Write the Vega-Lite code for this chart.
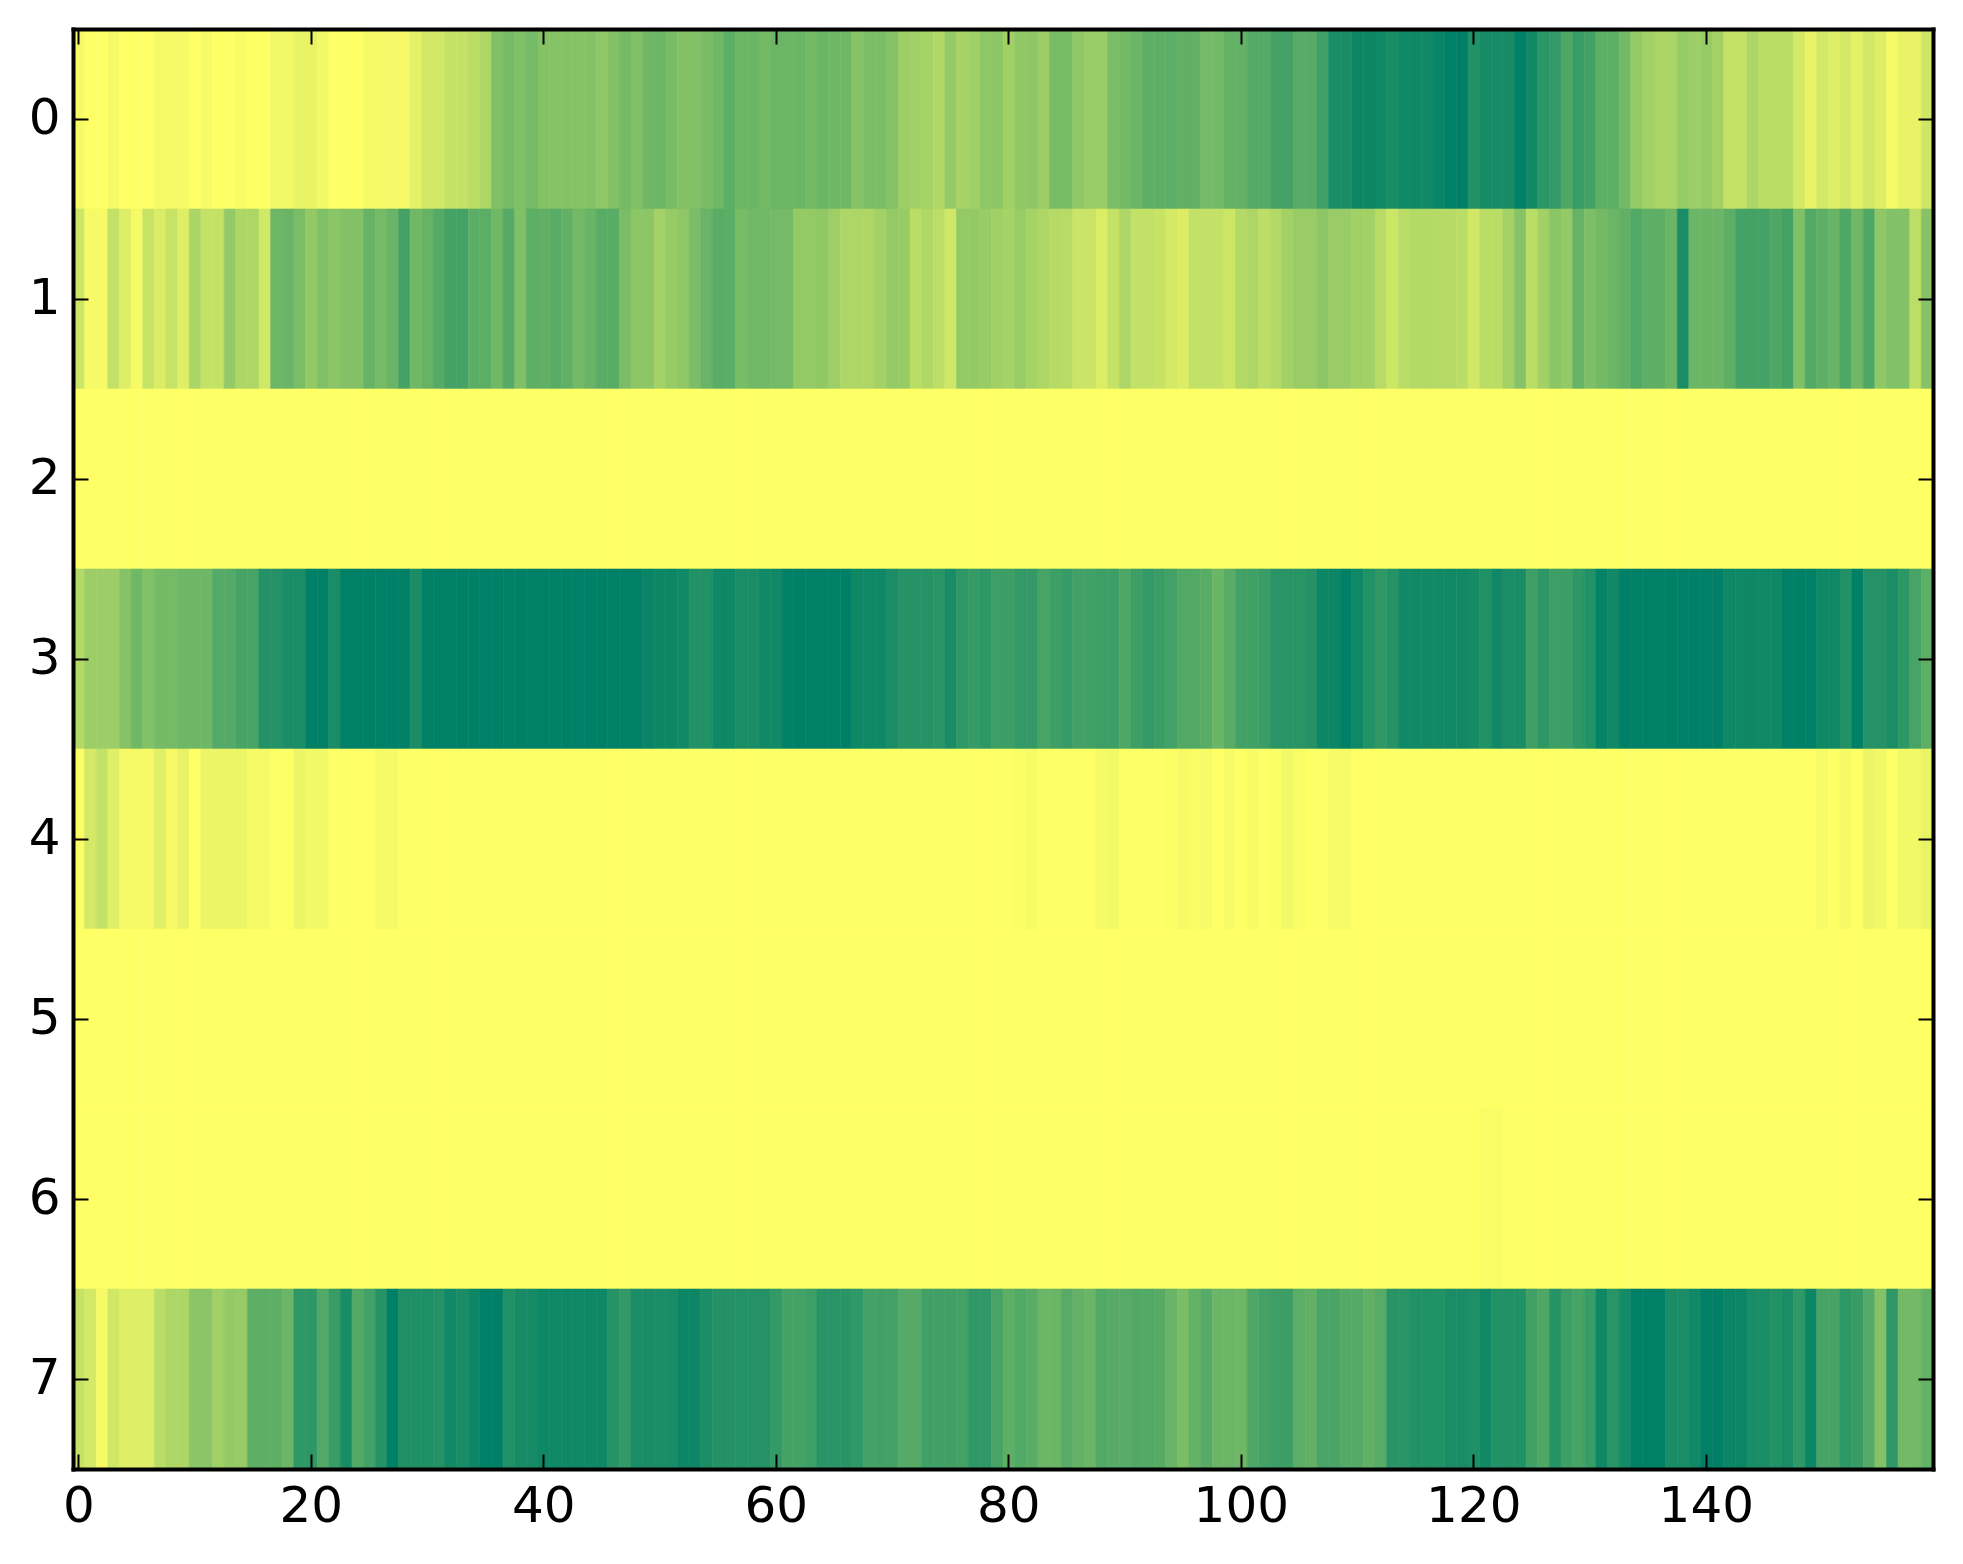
{"$schema":"https://vega.github.io/schema/vega-lite/v6.json","width":1860,"height":1440,"autosize":{"type":"none"},"padding":{"left":73,"top":29,"right":30,"bottom":95},"background":"white","config":{"view":{"stroke":null},"axis":{"title":null,"grid":false,"labelFont":"DejaVu Sans","labelFontSize":50,"labelColor":"black","labelAngle":0,"tickColor":"black","tickWidth":2,"tickSize":-15,"domainColor":"black","domainWidth":4,"domainCap":"square"}},"data":{"values":[
{"c":0,"r":0,"v":4},{"c":1,"r":0,"v":0},{"c":2,"r":0,"v":0},{"c":3,"r":0,"v":4},{"c":4,"r":0,"v":0},{"c":5,"r":0,"v":0},{"c":6,"r":0,"v":0},{"c":7,"r":0,"v":4},{"c":8,"r":0,"v":4},{"c":9,"r":0,"v":4},{"c":10,"r":0,"v":0},{"c":11,"r":0,"v":3},{"c":12,"r":0,"v":0},{"c":13,"r":0,"v":0},{"c":14,"r":0,"v":2},{"c":15,"r":0,"v":0},{"c":16,"r":0,"v":0},{"c":17,"r":0,"v":5},{"c":18,"r":0,"v":5},{"c":19,"r":0,"v":9},{"c":20,"r":0,"v":9},{"c":21,"r":0,"v":5},{"c":22,"r":0,"v":0},{"c":23,"r":0,"v":0},{"c":24,"r":0,"v":0},{"c":25,"r":0,"v":4},{"c":26,"r":0,"v":4},{"c":27,"r":0,"v":4},{"c":28,"r":0,"v":4},{"c":29,"r":0,"v":11},{"c":30,"r":0,"v":18},{"c":31,"r":0,"v":18},{"c":32,"r":0,"v":23},{"c":33,"r":0,"v":23},{"c":34,"r":0,"v":27},{"c":35,"r":0,"v":32},{"c":36,"r":0,"v":50},{"c":37,"r":0,"v":54},{"c":38,"r":0,"v":50},{"c":39,"r":0,"v":54},
{"c":40,"r":0,"v":48},{"c":41,"r":0,"v":48},{"c":42,"r":0,"v":48},{"c":43,"r":0,"v":48},{"c":44,"r":0,"v":48},{"c":45,"r":0,"v":44},{"c":46,"r":0,"v":49},{"c":47,"r":0,"v":54},{"c":48,"r":0,"v":50},{"c":49,"r":0,"v":56},{"c":50,"r":0,"v":58},{"c":51,"r":0,"v":53},{"c":52,"r":0,"v":49},{"c":53,"r":0,"v":49},{"c":54,"r":0,"v":52},{"c":55,"r":0,"v":56},{"c":56,"r":0,"v":63},{"c":57,"r":0,"v":58},{"c":58,"r":0,"v":58},{"c":59,"r":0,"v":55},{"c":60,"r":0,"v":58},{"c":61,"r":0,"v":58},{"c":62,"r":0,"v":58},{"c":63,"r":0,"v":55},{"c":64,"r":0,"v":58},{"c":65,"r":0,"v":56},{"c":66,"r":0,"v":56},{"c":67,"r":0,"v":47},{"c":68,"r":0,"v":52},{"c":69,"r":0,"v":52},{"c":70,"r":0,"v":48},{"c":71,"r":0,"v":38},{"c":72,"r":0,"v":37},{"c":73,"r":0,"v":35},{"c":74,"r":0,"v":31},{"c":75,"r":0,"v":42},{"c":76,"r":0,"v":34},{"c":77,"r":0,"v":37},{"c":78,"r":0,"v":44},{"c":79,"r":0,"v":45},
{"c":80,"r":0,"v":37},{"c":81,"r":0,"v":43},{"c":82,"r":0,"v":44},{"c":83,"r":0,"v":39},{"c":84,"r":0,"v":53},{"c":85,"r":0,"v":53},{"c":86,"r":0,"v":44},{"c":87,"r":0,"v":40},{"c":88,"r":0,"v":40},{"c":89,"r":0,"v":52},{"c":90,"r":0,"v":55},{"c":91,"r":0,"v":58},{"c":92,"r":0,"v":63},{"c":93,"r":0,"v":63},{"c":94,"r":0,"v":64},{"c":95,"r":0,"v":62},{"c":96,"r":0,"v":62},{"c":97,"r":0,"v":54},{"c":98,"r":0,"v":54},{"c":99,"r":0,"v":61},{"c":100,"r":0,"v":61},{"c":101,"r":0,"v":67},{"c":102,"r":0,"v":67},{"c":103,"r":0,"v":73},{"c":104,"r":0,"v":73},{"c":105,"r":0,"v":66},{"c":106,"r":0,"v":66},{"c":107,"r":0,"v":75},{"c":108,"r":0,"v":90},{"c":109,"r":0,"v":90},{"c":110,"r":0,"v":95},{"c":111,"r":0,"v":95},{"c":112,"r":0,"v":94},{"c":113,"r":0,"v":90},{"c":114,"r":0,"v":94},{"c":115,"r":0,"v":94},{"c":116,"r":0,"v":93},{"c":117,"r":0,"v":97},{"c":118,"r":0,"v":100},{"c":119,"r":0,"v":100},
{"c":120,"r":0,"v":87},{"c":121,"r":0,"v":91},{"c":122,"r":0,"v":91},{"c":123,"r":0,"v":91},{"c":124,"r":0,"v":100},{"c":125,"r":0,"v":94},{"c":126,"r":0,"v":83},{"c":127,"r":0,"v":80},{"c":128,"r":0,"v":69},{"c":129,"r":0,"v":78},{"c":130,"r":0,"v":74},{"c":131,"r":0,"v":63},{"c":132,"r":0,"v":63},{"c":133,"r":0,"v":55},{"c":134,"r":0,"v":42},{"c":135,"r":0,"v":36},{"c":136,"r":0,"v":33},{"c":137,"r":0,"v":33},{"c":138,"r":0,"v":41},{"c":139,"r":0,"v":38},{"c":140,"r":0,"v":41},{"c":141,"r":0,"v":36},{"c":142,"r":0,"v":23},{"c":143,"r":0,"v":23},{"c":144,"r":0,"v":32},{"c":145,"r":0,"v":27},{"c":146,"r":0,"v":27},{"c":147,"r":0,"v":27},{"c":148,"r":0,"v":17},{"c":149,"r":0,"v":9},{"c":150,"r":0,"v":17},{"c":151,"r":0,"v":13},{"c":152,"r":0,"v":17},{"c":153,"r":0,"v":11},{"c":154,"r":0,"v":18},{"c":155,"r":0,"v":13},{"c":156,"r":0,"v":4},{"c":157,"r":0,"v":9},{"c":158,"r":0,"v":9},{"c":159,"r":0,"v":19},
{"c":0,"r":1,"v":20},{"c":1,"r":1,"v":4},{"c":2,"r":1,"v":4},{"c":3,"r":1,"v":24},{"c":4,"r":1,"v":13},{"c":5,"r":1,"v":4},{"c":6,"r":1,"v":22},{"c":7,"r":1,"v":14},{"c":8,"r":1,"v":22},{"c":9,"r":1,"v":13},{"c":10,"r":1,"v":33},{"c":11,"r":1,"v":23},{"c":12,"r":1,"v":23},{"c":13,"r":1,"v":42},{"c":14,"r":1,"v":32},{"c":15,"r":1,"v":32},{"c":16,"r":1,"v":18},{"c":17,"r":1,"v":57},{"c":18,"r":1,"v":59},{"c":19,"r":1,"v":52},{"c":20,"r":1,"v":42},{"c":21,"r":1,"v":50},{"c":22,"r":1,"v":46},{"c":23,"r":1,"v":49},{"c":24,"r":1,"v":49},{"c":25,"r":1,"v":60},{"c":26,"r":1,"v":54},{"c":27,"r":1,"v":59},{"c":28,"r":1,"v":73},{"c":29,"r":1,"v":56},{"c":30,"r":1,"v":60},{"c":31,"r":1,"v":67},{"c":32,"r":1,"v":73},{"c":33,"r":1,"v":73},{"c":34,"r":1,"v":64},{"c":35,"r":1,"v":64},{"c":36,"r":1,"v":56},{"c":37,"r":1,"v":67},{"c":38,"r":1,"v":50},{"c":39,"r":1,"v":63},
{"c":40,"r":1,"v":62},{"c":41,"r":1,"v":65},{"c":42,"r":1,"v":62},{"c":43,"r":1,"v":55},{"c":44,"r":1,"v":59},{"c":45,"r":1,"v":65},{"c":46,"r":1,"v":65},{"c":47,"r":1,"v":52},{"c":48,"r":1,"v":45},{"c":49,"r":1,"v":45},{"c":50,"r":1,"v":36},{"c":51,"r":1,"v":41},{"c":52,"r":1,"v":44},{"c":53,"r":1,"v":52},{"c":54,"r":1,"v":59},{"c":55,"r":1,"v":65},{"c":56,"r":1,"v":64},{"c":57,"r":1,"v":53},{"c":58,"r":1,"v":56},{"c":59,"r":1,"v":56},{"c":60,"r":1,"v":54},{"c":61,"r":1,"v":54},{"c":62,"r":1,"v":42},{"c":63,"r":1,"v":42},{"c":64,"r":1,"v":43},{"c":65,"r":1,"v":38},{"c":66,"r":1,"v":32},{"c":67,"r":1,"v":32},{"c":68,"r":1,"v":32},{"c":69,"r":1,"v":36},{"c":70,"r":1,"v":42},{"c":71,"r":1,"v":41},{"c":72,"r":1,"v":27},{"c":73,"r":1,"v":31},{"c":74,"r":1,"v":26},{"c":75,"r":1,"v":19},{"c":76,"r":1,"v":42},{"c":77,"r":1,"v":42},{"c":78,"r":1,"v":40},{"c":79,"r":1,"v":37},
{"c":80,"r":1,"v":35},{"c":81,"r":1,"v":40},{"c":82,"r":1,"v":35},{"c":83,"r":1,"v":32},{"c":84,"r":1,"v":29},{"c":85,"r":1,"v":28},{"c":86,"r":1,"v":21},{"c":87,"r":1,"v":21},{"c":88,"r":1,"v":14},{"c":89,"r":1,"v":23},{"c":90,"r":1,"v":32},{"c":91,"r":1,"v":24},{"c":92,"r":1,"v":24},{"c":93,"r":1,"v":22},{"c":94,"r":1,"v":17},{"c":95,"r":1,"v":14},{"c":96,"r":1,"v":24},{"c":97,"r":1,"v":24},{"c":98,"r":1,"v":24},{"c":99,"r":1,"v":20},{"c":100,"r":1,"v":30},{"c":101,"r":1,"v":32},{"c":102,"r":1,"v":26},{"c":103,"r":1,"v":30},{"c":104,"r":1,"v":36},{"c":105,"r":1,"v":40},{"c":106,"r":1,"v":40},{"c":107,"r":1,"v":45},{"c":108,"r":1,"v":40},{"c":109,"r":1,"v":40},{"c":110,"r":1,"v":37},{"c":111,"r":1,"v":36},{"c":112,"r":1,"v":28},{"c":113,"r":1,"v":20},{"c":114,"r":1,"v":27},{"c":115,"r":1,"v":30},{"c":116,"r":1,"v":30},{"c":117,"r":1,"v":29},{"c":118,"r":1,"v":29},{"c":119,"r":1,"v":27},
{"c":120,"r":1,"v":18},{"c":121,"r":1,"v":27},{"c":122,"r":1,"v":27},{"c":123,"r":1,"v":36},{"c":124,"r":1,"v":47},{"c":125,"r":1,"v":27},{"c":126,"r":1,"v":36},{"c":127,"r":1,"v":46},{"c":128,"r":1,"v":42},{"c":129,"r":1,"v":60},{"c":130,"r":1,"v":51},{"c":131,"r":1,"v":55},{"c":132,"r":1,"v":58},{"c":133,"r":1,"v":62},{"c":134,"r":1,"v":68},{"c":135,"r":1,"v":63},{"c":136,"r":1,"v":63},{"c":137,"r":1,"v":58},{"c":138,"r":1,"v":90},{"c":139,"r":1,"v":58},{"c":140,"r":1,"v":58},{"c":141,"r":1,"v":58},{"c":142,"r":1,"v":63},{"c":143,"r":1,"v":73},{"c":144,"r":1,"v":73},{"c":145,"r":1,"v":73},{"c":146,"r":1,"v":69},{"c":147,"r":1,"v":73},{"c":148,"r":1,"v":50},{"c":149,"r":1,"v":68},{"c":150,"r":1,"v":63},{"c":151,"r":1,"v":59},{"c":152,"r":1,"v":69},{"c":153,"r":1,"v":56},{"c":154,"r":1,"v":69},{"c":155,"r":1,"v":43},{"c":156,"r":1,"v":49},{"c":157,"r":1,"v":49},{"c":158,"r":1,"v":26},{"c":159,"r":1,"v":47},
{"c":0,"r":2,"v":0},{"c":1,"r":2,"v":0},{"c":2,"r":2,"v":0},{"c":3,"r":2,"v":0},{"c":4,"r":2,"v":0},{"c":5,"r":2,"v":0},{"c":6,"r":2,"v":0},{"c":7,"r":2,"v":0},{"c":8,"r":2,"v":0},{"c":9,"r":2,"v":0},{"c":10,"r":2,"v":0},{"c":11,"r":2,"v":0},{"c":12,"r":2,"v":0},{"c":13,"r":2,"v":0},{"c":14,"r":2,"v":0},{"c":15,"r":2,"v":0},{"c":16,"r":2,"v":0},{"c":17,"r":2,"v":0},{"c":18,"r":2,"v":0},{"c":19,"r":2,"v":0},{"c":20,"r":2,"v":0},{"c":21,"r":2,"v":0},{"c":22,"r":2,"v":0},{"c":23,"r":2,"v":0},{"c":24,"r":2,"v":0},{"c":25,"r":2,"v":0},{"c":26,"r":2,"v":0},{"c":27,"r":2,"v":0},{"c":28,"r":2,"v":0},{"c":29,"r":2,"v":0},{"c":30,"r":2,"v":0},{"c":31,"r":2,"v":0},{"c":32,"r":2,"v":0},{"c":33,"r":2,"v":0},{"c":34,"r":2,"v":0},{"c":35,"r":2,"v":0},{"c":36,"r":2,"v":0},{"c":37,"r":2,"v":0},{"c":38,"r":2,"v":0},{"c":39,"r":2,"v":0},{"c":40,"r":2,"v":0},{"c":41,"r":2,"v":0},{"c":42,"r":2,"v":0},{"c":43,"r":2,"v":0},{"c":44,"r":2,"v":0},{"c":45,"r":2,"v":0},{"c":46,"r":2,"v":0},{"c":47,"r":2,"v":0},{"c":48,"r":2,"v":0},{"c":49,"r":2,"v":0},{"c":50,"r":2,"v":0},{"c":51,"r":2,"v":0},{"c":52,"r":2,"v":0},{"c":53,"r":2,"v":0},{"c":54,"r":2,"v":0},{"c":55,"r":2,"v":0},{"c":56,"r":2,"v":0},{"c":57,"r":2,"v":0},{"c":58,"r":2,"v":0},{"c":59,"r":2,"v":0},{"c":60,"r":2,"v":0},{"c":61,"r":2,"v":0},{"c":62,"r":2,"v":0},{"c":63,"r":2,"v":0},{"c":64,"r":2,"v":0},{"c":65,"r":2,"v":0},{"c":66,"r":2,"v":0},{"c":67,"r":2,"v":0},{"c":68,"r":2,"v":0},{"c":69,"r":2,"v":0},{"c":70,"r":2,"v":0},{"c":71,"r":2,"v":0},{"c":72,"r":2,"v":0},{"c":73,"r":2,"v":0},{"c":74,"r":2,"v":0},{"c":75,"r":2,"v":0},{"c":76,"r":2,"v":0},{"c":77,"r":2,"v":0},{"c":78,"r":2,"v":0},{"c":79,"r":2,"v":0},{"c":80,"r":2,"v":0},{"c":81,"r":2,"v":0},{"c":82,"r":2,"v":0},{"c":83,"r":2,"v":0},{"c":84,"r":2,"v":0},{"c":85,"r":2,"v":0},{"c":86,"r":2,"v":0},{"c":87,"r":2,"v":0},{"c":88,"r":2,"v":0},{"c":89,"r":2,"v":0},{"c":90,"r":2,"v":0},{"c":91,"r":2,"v":0},{"c":92,"r":2,"v":0},{"c":93,"r":2,"v":0},{"c":94,"r":2,"v":0},{"c":95,"r":2,"v":0},{"c":96,"r":2,"v":0},{"c":97,"r":2,"v":0},{"c":98,"r":2,"v":0},{"c":99,"r":2,"v":0},{"c":100,"r":2,"v":0},{"c":101,"r":2,"v":0},{"c":102,"r":2,"v":0},{"c":103,"r":2,"v":0},{"c":104,"r":2,"v":0},{"c":105,"r":2,"v":0},{"c":106,"r":2,"v":0},{"c":107,"r":2,"v":0},{"c":108,"r":2,"v":0},{"c":109,"r":2,"v":0},{"c":110,"r":2,"v":0},{"c":111,"r":2,"v":0},{"c":112,"r":2,"v":0},{"c":113,"r":2,"v":0},{"c":114,"r":2,"v":0},{"c":115,"r":2,"v":0},{"c":116,"r":2,"v":0},{"c":117,"r":2,"v":0},{"c":118,"r":2,"v":0},{"c":119,"r":2,"v":0},{"c":120,"r":2,"v":0},{"c":121,"r":2,"v":0},{"c":122,"r":2,"v":0},{"c":123,"r":2,"v":0},{"c":124,"r":2,"v":0},{"c":125,"r":2,"v":0},{"c":126,"r":2,"v":0},{"c":127,"r":2,"v":0},{"c":128,"r":2,"v":0},{"c":129,"r":2,"v":0},{"c":130,"r":2,"v":0},{"c":131,"r":2,"v":0},{"c":132,"r":2,"v":0},{"c":133,"r":2,"v":0},{"c":134,"r":2,"v":0},{"c":135,"r":2,"v":0},{"c":136,"r":2,"v":0},{"c":137,"r":2,"v":0},{"c":138,"r":2,"v":0},{"c":139,"r":2,"v":0},{"c":140,"r":2,"v":0},{"c":141,"r":2,"v":0},{"c":142,"r":2,"v":0},{"c":143,"r":2,"v":0},{"c":144,"r":2,"v":0},{"c":145,"r":2,"v":0},{"c":146,"r":2,"v":0},{"c":147,"r":2,"v":0},{"c":148,"r":2,"v":0},{"c":149,"r":2,"v":0},{"c":150,"r":2,"v":0},{"c":151,"r":2,"v":0},{"c":152,"r":2,"v":0},{"c":153,"r":2,"v":0},{"c":154,"r":2,"v":0},{"c":155,"r":2,"v":0},{"c":156,"r":2,"v":0},{"c":157,"r":2,"v":0},{"c":158,"r":2,"v":0},{"c":159,"r":2,"v":0},
{"c":0,"r":3,"v":30},{"c":1,"r":3,"v":39},{"c":2,"r":3,"v":39},{"c":3,"r":3,"v":39},{"c":4,"r":3,"v":47},{"c":5,"r":3,"v":56},{"c":6,"r":3,"v":49},{"c":7,"r":3,"v":54},{"c":8,"r":3,"v":54},{"c":9,"r":3,"v":57},{"c":10,"r":3,"v":57},{"c":11,"r":3,"v":57},{"c":12,"r":3,"v":67},{"c":13,"r":3,"v":67},{"c":14,"r":3,"v":72},{"c":15,"r":3,"v":72},{"c":16,"r":3,"v":86},{"c":17,"r":3,"v":86},{"c":18,"r":3,"v":90},{"c":19,"r":3,"v":90},{"c":20,"r":3,"v":100},{"c":21,"r":3,"v":100},{"c":22,"r":3,"v":90},{"c":23,"r":3,"v":100},{"c":24,"r":3,"v":100},{"c":25,"r":3,"v":100},{"c":26,"r":3,"v":100},{"c":27,"r":3,"v":100},{"c":28,"r":3,"v":100},{"c":29,"r":3,"v":90},{"c":30,"r":3,"v":100},{"c":31,"r":3,"v":100},{"c":32,"r":3,"v":100},{"c":33,"r":3,"v":100},{"c":34,"r":3,"v":100},{"c":35,"r":3,"v":100},{"c":36,"r":3,"v":100},{"c":37,"r":3,"v":100},{"c":38,"r":3,"v":100},{"c":39,"r":3,"v":100},
{"c":40,"r":3,"v":100},{"c":41,"r":3,"v":100},{"c":42,"r":3,"v":100},{"c":43,"r":3,"v":100},{"c":44,"r":3,"v":100},{"c":45,"r":3,"v":100},{"c":46,"r":3,"v":100},{"c":47,"r":3,"v":100},{"c":48,"r":3,"v":100},{"c":49,"r":3,"v":97},{"c":50,"r":3,"v":95},{"c":51,"r":3,"v":95},{"c":52,"r":3,"v":93},{"c":53,"r":3,"v":87},{"c":54,"r":3,"v":87},{"c":55,"r":3,"v":94},{"c":56,"r":3,"v":94},{"c":57,"r":3,"v":90},{"c":58,"r":3,"v":90},{"c":59,"r":3,"v":93},{"c":60,"r":3,"v":93},{"c":61,"r":3,"v":100},{"c":62,"r":3,"v":100},{"c":63,"r":3,"v":100},{"c":64,"r":3,"v":100},{"c":65,"r":3,"v":100},{"c":66,"r":3,"v":100},{"c":67,"r":3,"v":94},{"c":68,"r":3,"v":94},{"c":69,"r":3,"v":94},{"c":70,"r":3,"v":90},{"c":71,"r":3,"v":85},{"c":72,"r":3,"v":85},{"c":73,"r":3,"v":85},{"c":74,"r":3,"v":84},{"c":75,"r":3,"v":90},{"c":76,"r":3,"v":82},{"c":77,"r":3,"v":79},{"c":78,"r":3,"v":82},{"c":79,"r":3,"v":76},
{"c":80,"r":3,"v":76},{"c":81,"r":3,"v":80},{"c":82,"r":3,"v":80},{"c":83,"r":3,"v":72},{"c":84,"r":3,"v":76},{"c":85,"r":3,"v":79},{"c":86,"r":3,"v":74},{"c":87,"r":3,"v":74},{"c":88,"r":3,"v":76},{"c":89,"r":3,"v":76},{"c":90,"r":3,"v":69},{"c":91,"r":3,"v":76},{"c":92,"r":3,"v":80},{"c":93,"r":3,"v":77},{"c":94,"r":3,"v":74},{"c":95,"r":3,"v":68},{"c":96,"r":3,"v":68},{"c":97,"r":3,"v":65},{"c":98,"r":3,"v":58},{"c":99,"r":3,"v":65},{"c":100,"r":3,"v":74},{"c":101,"r":3,"v":75},{"c":102,"r":3,"v":77},{"c":103,"r":3,"v":84},{"c":104,"r":3,"v":84},{"c":105,"r":3,"v":84},{"c":106,"r":3,"v":86},{"c":107,"r":3,"v":95},{"c":108,"r":3,"v":95},{"c":109,"r":3,"v":100},{"c":110,"r":3,"v":94},{"c":111,"r":3,"v":87},{"c":112,"r":3,"v":81},{"c":113,"r":3,"v":85},{"c":114,"r":3,"v":93},{"c":115,"r":3,"v":93},{"c":116,"r":3,"v":93},{"c":117,"r":3,"v":93},{"c":118,"r":3,"v":93},{"c":119,"r":3,"v":93},
{"c":120,"r":3,"v":91},{"c":121,"r":3,"v":87},{"c":122,"r":3,"v":93},{"c":123,"r":3,"v":90},{"c":124,"r":3,"v":90},{"c":125,"r":3,"v":76},{"c":126,"r":3,"v":82},{"c":127,"r":3,"v":76},{"c":128,"r":3,"v":76},{"c":129,"r":3,"v":82},{"c":130,"r":3,"v":87},{"c":131,"r":3,"v":98},{"c":132,"r":3,"v":93},{"c":133,"r":3,"v":100},{"c":134,"r":3,"v":100},{"c":135,"r":3,"v":100},{"c":136,"r":3,"v":100},{"c":137,"r":3,"v":100},{"c":138,"r":3,"v":100},{"c":139,"r":3,"v":100},{"c":140,"r":3,"v":100},{"c":141,"r":3,"v":100},{"c":142,"r":3,"v":94},{"c":143,"r":3,"v":94},{"c":144,"r":3,"v":94},{"c":145,"r":3,"v":94},{"c":146,"r":3,"v":94},{"c":147,"r":3,"v":100},{"c":148,"r":3,"v":100},{"c":149,"r":3,"v":100},{"c":150,"r":3,"v":94},{"c":151,"r":3,"v":94},{"c":152,"r":3,"v":87},{"c":153,"r":3,"v":100},{"c":154,"r":3,"v":86},{"c":155,"r":3,"v":86},{"c":156,"r":3,"v":90},{"c":157,"r":3,"v":82},{"c":158,"r":3,"v":72},{"c":159,"r":3,"v":63},
{"c":0,"r":4,"v":1},{"c":1,"r":4,"v":17},{"c":2,"r":4,"v":23},{"c":3,"r":4,"v":13},{"c":4,"r":4,"v":4},{"c":5,"r":4,"v":4},{"c":6,"r":4,"v":4},{"c":7,"r":4,"v":12},{"c":8,"r":4,"v":4},{"c":9,"r":4,"v":9},{"c":10,"r":4,"v":0},{"c":11,"r":4,"v":8},{"c":12,"r":4,"v":8},{"c":13,"r":4,"v":8},{"c":14,"r":4,"v":8},{"c":15,"r":4,"v":4},{"c":16,"r":4,"v":4},{"c":17,"r":4,"v":0},{"c":18,"r":4,"v":0},{"c":19,"r":4,"v":8},{"c":20,"r":4,"v":5},{"c":21,"r":4,"v":5},{"c":22,"r":4,"v":0},{"c":23,"r":4,"v":0},{"c":24,"r":4,"v":0},{"c":25,"r":4,"v":0},{"c":26,"r":4,"v":4},{"c":27,"r":4,"v":4},{"c":28,"r":4,"v":0},{"c":29,"r":4,"v":0},{"c":30,"r":4,"v":0},{"c":31,"r":4,"v":0},{"c":32,"r":4,"v":0},{"c":33,"r":4,"v":0},{"c":34,"r":4,"v":0},{"c":35,"r":4,"v":0},{"c":36,"r":4,"v":0},{"c":37,"r":4,"v":0},{"c":38,"r":4,"v":0},{"c":39,"r":4,"v":0},{"c":40,"r":4,"v":0},{"c":41,"r":4,"v":0},{"c":42,"r":4,"v":0},{"c":43,"r":4,"v":0},{"c":44,"r":4,"v":0},{"c":45,"r":4,"v":0},{"c":46,"r":4,"v":0},{"c":47,"r":4,"v":0},{"c":48,"r":4,"v":0},{"c":49,"r":4,"v":0},{"c":50,"r":4,"v":0},{"c":51,"r":4,"v":0},{"c":52,"r":4,"v":0},{"c":53,"r":4,"v":0},{"c":54,"r":4,"v":0},{"c":55,"r":4,"v":0},{"c":56,"r":4,"v":0},{"c":57,"r":4,"v":0},{"c":58,"r":4,"v":0},{"c":59,"r":4,"v":0},{"c":60,"r":4,"v":0},{"c":61,"r":4,"v":0},{"c":62,"r":4,"v":0},{"c":63,"r":4,"v":0},{"c":64,"r":4,"v":0},{"c":65,"r":4,"v":0},{"c":66,"r":4,"v":0},{"c":67,"r":4,"v":0},{"c":68,"r":4,"v":0},{"c":69,"r":4,"v":0},{"c":70,"r":4,"v":0},{"c":71,"r":4,"v":0},{"c":72,"r":4,"v":0},{"c":73,"r":4,"v":0},{"c":74,"r":4,"v":0},{"c":75,"r":4,"v":0},{"c":76,"r":4,"v":0},{"c":77,"r":4,"v":0},{"c":78,"r":4,"v":0},{"c":79,"r":4,"v":0},
{"c":80,"r":4,"v":0},{"c":81,"r":4,"v":1},{"c":82,"r":4,"v":3},{"c":83,"r":4,"v":0},{"c":84,"r":4,"v":0},{"c":85,"r":4,"v":0},{"c":86,"r":4,"v":0},{"c":87,"r":4,"v":0},{"c":88,"r":4,"v":4},{"c":89,"r":4,"v":5},{"c":90,"r":4,"v":0},{"c":91,"r":4,"v":0},{"c":92,"r":4,"v":0},{"c":93,"r":4,"v":0},{"c":94,"r":4,"v":1},{"c":95,"r":4,"v":4},{"c":96,"r":4,"v":2},{"c":97,"r":4,"v":3},{"c":98,"r":4,"v":0},{"c":99,"r":4,"v":3},{"c":100,"r":4,"v":0},{"c":101,"r":4,"v":3},{"c":102,"r":4,"v":0},{"c":103,"r":4,"v":1},{"c":104,"r":4,"v":5},{"c":105,"r":4,"v":2},{"c":106,"r":4,"v":0},{"c":107,"r":4,"v":0},{"c":108,"r":4,"v":3},{"c":109,"r":4,"v":3},{"c":110,"r":4,"v":0},{"c":111,"r":4,"v":0},{"c":112,"r":4,"v":0},{"c":113,"r":4,"v":0},{"c":114,"r":4,"v":0},{"c":115,"r":4,"v":0},{"c":116,"r":4,"v":0},{"c":117,"r":4,"v":0},{"c":118,"r":4,"v":0},{"c":119,"r":4,"v":0},{"c":120,"r":4,"v":0},{"c":121,"r":4,"v":0},{"c":122,"r":4,"v":0},{"c":123,"r":4,"v":0},{"c":124,"r":4,"v":0},{"c":125,"r":4,"v":0},{"c":126,"r":4,"v":0},{"c":127,"r":4,"v":0},{"c":128,"r":4,"v":0},{"c":129,"r":4,"v":0},{"c":130,"r":4,"v":0},{"c":131,"r":4,"v":0},{"c":132,"r":4,"v":0},{"c":133,"r":4,"v":0},{"c":134,"r":4,"v":0},{"c":135,"r":4,"v":0},{"c":136,"r":4,"v":0},{"c":137,"r":4,"v":0},{"c":138,"r":4,"v":0},{"c":139,"r":4,"v":0},{"c":140,"r":4,"v":0},{"c":141,"r":4,"v":0},{"c":142,"r":4,"v":0},{"c":143,"r":4,"v":0},{"c":144,"r":4,"v":0},{"c":145,"r":4,"v":0},{"c":146,"r":4,"v":0},{"c":147,"r":4,"v":0},{"c":148,"r":4,"v":0},{"c":149,"r":4,"v":0},{"c":150,"r":4,"v":3},{"c":151,"r":4,"v":0},{"c":152,"r":4,"v":4},{"c":153,"r":4,"v":0},{"c":154,"r":4,"v":8},{"c":155,"r":4,"v":5},{"c":156,"r":4,"v":0},{"c":157,"r":4,"v":5},{"c":158,"r":4,"v":5},{"c":159,"r":4,"v":9},
{"c":0,"r":5,"v":0},{"c":1,"r":5,"v":0},{"c":2,"r":5,"v":0},{"c":3,"r":5,"v":0},{"c":4,"r":5,"v":0},{"c":5,"r":5,"v":0},{"c":6,"r":5,"v":0},{"c":7,"r":5,"v":0},{"c":8,"r":5,"v":0},{"c":9,"r":5,"v":0},{"c":10,"r":5,"v":0},{"c":11,"r":5,"v":0},{"c":12,"r":5,"v":0},{"c":13,"r":5,"v":0},{"c":14,"r":5,"v":0},{"c":15,"r":5,"v":0},{"c":16,"r":5,"v":0},{"c":17,"r":5,"v":0},{"c":18,"r":5,"v":0},{"c":19,"r":5,"v":0},{"c":20,"r":5,"v":0},{"c":21,"r":5,"v":0},{"c":22,"r":5,"v":0},{"c":23,"r":5,"v":0},{"c":24,"r":5,"v":0},{"c":25,"r":5,"v":0},{"c":26,"r":5,"v":0},{"c":27,"r":5,"v":0},{"c":28,"r":5,"v":0},{"c":29,"r":5,"v":0},{"c":30,"r":5,"v":0},{"c":31,"r":5,"v":0},{"c":32,"r":5,"v":0},{"c":33,"r":5,"v":0},{"c":34,"r":5,"v":0},{"c":35,"r":5,"v":0},{"c":36,"r":5,"v":0},{"c":37,"r":5,"v":0},{"c":38,"r":5,"v":0},{"c":39,"r":5,"v":0},{"c":40,"r":5,"v":0},{"c":41,"r":5,"v":0},{"c":42,"r":5,"v":0},{"c":43,"r":5,"v":0},{"c":44,"r":5,"v":0},{"c":45,"r":5,"v":0},{"c":46,"r":5,"v":0},{"c":47,"r":5,"v":0},{"c":48,"r":5,"v":0},{"c":49,"r":5,"v":0},{"c":50,"r":5,"v":0},{"c":51,"r":5,"v":0},{"c":52,"r":5,"v":0},{"c":53,"r":5,"v":0},{"c":54,"r":5,"v":0},{"c":55,"r":5,"v":0},{"c":56,"r":5,"v":0},{"c":57,"r":5,"v":0},{"c":58,"r":5,"v":0},{"c":59,"r":5,"v":0},{"c":60,"r":5,"v":0},{"c":61,"r":5,"v":0},{"c":62,"r":5,"v":0},{"c":63,"r":5,"v":0},{"c":64,"r":5,"v":0},{"c":65,"r":5,"v":0},{"c":66,"r":5,"v":0},{"c":67,"r":5,"v":0},{"c":68,"r":5,"v":0},{"c":69,"r":5,"v":0},{"c":70,"r":5,"v":0},{"c":71,"r":5,"v":0},{"c":72,"r":5,"v":0},{"c":73,"r":5,"v":0},{"c":74,"r":5,"v":0},{"c":75,"r":5,"v":0},{"c":76,"r":5,"v":0},{"c":77,"r":5,"v":0},{"c":78,"r":5,"v":0},{"c":79,"r":5,"v":0},{"c":80,"r":5,"v":0},{"c":81,"r":5,"v":0},{"c":82,"r":5,"v":0},{"c":83,"r":5,"v":0},{"c":84,"r":5,"v":0},{"c":85,"r":5,"v":0},{"c":86,"r":5,"v":0},{"c":87,"r":5,"v":0},{"c":88,"r":5,"v":0},{"c":89,"r":5,"v":0},{"c":90,"r":5,"v":0},{"c":91,"r":5,"v":0},{"c":92,"r":5,"v":0},{"c":93,"r":5,"v":0},{"c":94,"r":5,"v":0},{"c":95,"r":5,"v":0},{"c":96,"r":5,"v":0},{"c":97,"r":5,"v":0},{"c":98,"r":5,"v":0},{"c":99,"r":5,"v":0},{"c":100,"r":5,"v":0},{"c":101,"r":5,"v":0},{"c":102,"r":5,"v":0},{"c":103,"r":5,"v":0},{"c":104,"r":5,"v":0},{"c":105,"r":5,"v":0},{"c":106,"r":5,"v":0},{"c":107,"r":5,"v":0},{"c":108,"r":5,"v":0},{"c":109,"r":5,"v":0},{"c":110,"r":5,"v":0},{"c":111,"r":5,"v":0},{"c":112,"r":5,"v":0},{"c":113,"r":5,"v":0},{"c":114,"r":5,"v":0},{"c":115,"r":5,"v":0},{"c":116,"r":5,"v":0},{"c":117,"r":5,"v":0},{"c":118,"r":5,"v":0},{"c":119,"r":5,"v":0},{"c":120,"r":5,"v":0},{"c":121,"r":5,"v":0},{"c":122,"r":5,"v":0},{"c":123,"r":5,"v":0},{"c":124,"r":5,"v":0},{"c":125,"r":5,"v":0},{"c":126,"r":5,"v":0},{"c":127,"r":5,"v":0},{"c":128,"r":5,"v":0},{"c":129,"r":5,"v":0},{"c":130,"r":5,"v":0},{"c":131,"r":5,"v":0},{"c":132,"r":5,"v":0},{"c":133,"r":5,"v":0},{"c":134,"r":5,"v":0},{"c":135,"r":5,"v":0},{"c":136,"r":5,"v":0},{"c":137,"r":5,"v":0},{"c":138,"r":5,"v":0},{"c":139,"r":5,"v":0},{"c":140,"r":5,"v":0},{"c":141,"r":5,"v":0},{"c":142,"r":5,"v":0},{"c":143,"r":5,"v":0},{"c":144,"r":5,"v":0},{"c":145,"r":5,"v":0},{"c":146,"r":5,"v":0},{"c":147,"r":5,"v":0},{"c":148,"r":5,"v":0},{"c":149,"r":5,"v":0},{"c":150,"r":5,"v":0},{"c":151,"r":5,"v":0},{"c":152,"r":5,"v":0},{"c":153,"r":5,"v":0},{"c":154,"r":5,"v":0},{"c":155,"r":5,"v":0},{"c":156,"r":5,"v":0},{"c":157,"r":5,"v":0},{"c":158,"r":5,"v":0},{"c":159,"r":5,"v":0},
{"c":0,"r":6,"v":0},{"c":1,"r":6,"v":0},{"c":2,"r":6,"v":0},{"c":3,"r":6,"v":0},{"c":4,"r":6,"v":0},{"c":5,"r":6,"v":0},{"c":6,"r":6,"v":0},{"c":7,"r":6,"v":0},{"c":8,"r":6,"v":0},{"c":9,"r":6,"v":0},{"c":10,"r":6,"v":0},{"c":11,"r":6,"v":0},{"c":12,"r":6,"v":0},{"c":13,"r":6,"v":0},{"c":14,"r":6,"v":0},{"c":15,"r":6,"v":0},{"c":16,"r":6,"v":0},{"c":17,"r":6,"v":0},{"c":18,"r":6,"v":0},{"c":19,"r":6,"v":0},{"c":20,"r":6,"v":0},{"c":21,"r":6,"v":0},{"c":22,"r":6,"v":0},{"c":23,"r":6,"v":0},{"c":24,"r":6,"v":0},{"c":25,"r":6,"v":0},{"c":26,"r":6,"v":0},{"c":27,"r":6,"v":0},{"c":28,"r":6,"v":0},{"c":29,"r":6,"v":0},{"c":30,"r":6,"v":0},{"c":31,"r":6,"v":0},{"c":32,"r":6,"v":0},{"c":33,"r":6,"v":0},{"c":34,"r":6,"v":0},{"c":35,"r":6,"v":0},{"c":36,"r":6,"v":0},{"c":37,"r":6,"v":0},{"c":38,"r":6,"v":0},{"c":39,"r":6,"v":0},{"c":40,"r":6,"v":0},{"c":41,"r":6,"v":0},{"c":42,"r":6,"v":0},{"c":43,"r":6,"v":0},{"c":44,"r":6,"v":0},{"c":45,"r":6,"v":0},{"c":46,"r":6,"v":0},{"c":47,"r":6,"v":0},{"c":48,"r":6,"v":0},{"c":49,"r":6,"v":0},{"c":50,"r":6,"v":0},{"c":51,"r":6,"v":0},{"c":52,"r":6,"v":0},{"c":53,"r":6,"v":0},{"c":54,"r":6,"v":0},{"c":55,"r":6,"v":0},{"c":56,"r":6,"v":0},{"c":57,"r":6,"v":0},{"c":58,"r":6,"v":0},{"c":59,"r":6,"v":0},{"c":60,"r":6,"v":0},{"c":61,"r":6,"v":0},{"c":62,"r":6,"v":0},{"c":63,"r":6,"v":0},{"c":64,"r":6,"v":0},{"c":65,"r":6,"v":0},{"c":66,"r":6,"v":0},{"c":67,"r":6,"v":0},{"c":68,"r":6,"v":0},{"c":69,"r":6,"v":0},{"c":70,"r":6,"v":0},{"c":71,"r":6,"v":0},{"c":72,"r":6,"v":0},{"c":73,"r":6,"v":0},{"c":74,"r":6,"v":0},{"c":75,"r":6,"v":0},{"c":76,"r":6,"v":0},{"c":77,"r":6,"v":0},{"c":78,"r":6,"v":0},{"c":79,"r":6,"v":0},{"c":80,"r":6,"v":0},{"c":81,"r":6,"v":0},{"c":82,"r":6,"v":0},{"c":83,"r":6,"v":0},{"c":84,"r":6,"v":0},{"c":85,"r":6,"v":0},{"c":86,"r":6,"v":0},{"c":87,"r":6,"v":0},{"c":88,"r":6,"v":0},{"c":89,"r":6,"v":0},{"c":90,"r":6,"v":0},{"c":91,"r":6,"v":0},{"c":92,"r":6,"v":0},{"c":93,"r":6,"v":0},{"c":94,"r":6,"v":0},{"c":95,"r":6,"v":0},{"c":96,"r":6,"v":0},{"c":97,"r":6,"v":0},{"c":98,"r":6,"v":0},{"c":99,"r":6,"v":0},{"c":100,"r":6,"v":0},{"c":101,"r":6,"v":0},{"c":102,"r":6,"v":0},{"c":103,"r":6,"v":0},{"c":104,"r":6,"v":0},{"c":105,"r":6,"v":0},{"c":106,"r":6,"v":0},{"c":107,"r":6,"v":0},{"c":108,"r":6,"v":0},{"c":109,"r":6,"v":0},{"c":110,"r":6,"v":0},{"c":111,"r":6,"v":0},{"c":112,"r":6,"v":0},{"c":113,"r":6,"v":0},{"c":114,"r":6,"v":0},{"c":115,"r":6,"v":0},{"c":116,"r":6,"v":0},{"c":117,"r":6,"v":0},{"c":118,"r":6,"v":0},{"c":119,"r":6,"v":0},{"c":120,"r":6,"v":0},{"c":121,"r":6,"v":2},{"c":122,"r":6,"v":2},{"c":123,"r":6,"v":0},{"c":124,"r":6,"v":0},{"c":125,"r":6,"v":0},{"c":126,"r":6,"v":0},{"c":127,"r":6,"v":0},{"c":128,"r":6,"v":0},{"c":129,"r":6,"v":0},{"c":130,"r":6,"v":0},{"c":131,"r":6,"v":0},{"c":132,"r":6,"v":0},{"c":133,"r":6,"v":0},{"c":134,"r":6,"v":0},{"c":135,"r":6,"v":0},{"c":136,"r":6,"v":0},{"c":137,"r":6,"v":0},{"c":138,"r":6,"v":0},{"c":139,"r":6,"v":0},{"c":140,"r":6,"v":0},{"c":141,"r":6,"v":0},{"c":142,"r":6,"v":0},{"c":143,"r":6,"v":0},{"c":144,"r":6,"v":0},{"c":145,"r":6,"v":0},{"c":146,"r":6,"v":0},{"c":147,"r":6,"v":0},{"c":148,"r":6,"v":0},{"c":149,"r":6,"v":0},{"c":150,"r":6,"v":0},{"c":151,"r":6,"v":0},{"c":152,"r":6,"v":0},{"c":153,"r":6,"v":0},{"c":154,"r":6,"v":0},{"c":155,"r":6,"v":0},{"c":156,"r":6,"v":0},{"c":157,"r":6,"v":0},{"c":158,"r":6,"v":0},{"c":159,"r":6,"v":0},
{"c":0,"r":7,"v":22},{"c":1,"r":7,"v":17},{"c":2,"r":7,"v":4},{"c":3,"r":7,"v":18},{"c":4,"r":7,"v":13},{"c":5,"r":7,"v":13},{"c":6,"r":7,"v":13},{"c":7,"r":7,"v":27},{"c":8,"r":7,"v":32},{"c":9,"r":7,"v":32},{"c":10,"r":7,"v":46},{"c":11,"r":7,"v":46},{"c":12,"r":7,"v":37},{"c":13,"r":7,"v":42},{"c":14,"r":7,"v":41},{"c":15,"r":7,"v":63},{"c":16,"r":7,"v":63},{"c":17,"r":7,"v":63},{"c":18,"r":7,"v":58},{"c":19,"r":7,"v":82},{"c":20,"r":7,"v":82},{"c":21,"r":7,"v":68},{"c":22,"r":7,"v":78},{"c":23,"r":7,"v":90},{"c":24,"r":7,"v":68},{"c":25,"r":7,"v":74},{"c":26,"r":7,"v":85},{"c":27,"r":7,"v":100},{"c":28,"r":7,"v":88},{"c":29,"r":7,"v":88},{"c":30,"r":7,"v":88},{"c":31,"r":7,"v":86},{"c":32,"r":7,"v":93},{"c":33,"r":7,"v":90},{"c":34,"r":7,"v":95},{"c":35,"r":7,"v":100},{"c":36,"r":7,"v":100},{"c":37,"r":7,"v":87},{"c":38,"r":7,"v":91},{"c":39,"r":7,"v":91},
{"c":40,"r":7,"v":94},{"c":41,"r":7,"v":94},{"c":42,"r":7,"v":94},{"c":43,"r":7,"v":94},{"c":44,"r":7,"v":94},{"c":45,"r":7,"v":94},{"c":46,"r":7,"v":85},{"c":47,"r":7,"v":80},{"c":48,"r":7,"v":90},{"c":49,"r":7,"v":90},{"c":50,"r":7,"v":90},{"c":51,"r":7,"v":90},{"c":52,"r":7,"v":95},{"c":53,"r":7,"v":95},{"c":54,"r":7,"v":89},{"c":55,"r":7,"v":86},{"c":56,"r":7,"v":86},{"c":57,"r":7,"v":86},{"c":58,"r":7,"v":86},{"c":59,"r":7,"v":86},{"c":60,"r":7,"v":80},{"c":61,"r":7,"v":73},{"c":62,"r":7,"v":73},{"c":63,"r":7,"v":76},{"c":64,"r":7,"v":84},{"c":65,"r":7,"v":84},{"c":66,"r":7,"v":84},{"c":67,"r":7,"v":81},{"c":68,"r":7,"v":73},{"c":69,"r":7,"v":74},{"c":70,"r":7,"v":74},{"c":71,"r":7,"v":67},{"c":72,"r":7,"v":67},{"c":73,"r":7,"v":75},{"c":74,"r":7,"v":75},{"c":75,"r":7,"v":75},{"c":76,"r":7,"v":73},{"c":77,"r":7,"v":81},{"c":78,"r":7,"v":81},{"c":79,"r":7,"v":72},
{"c":80,"r":7,"v":63},{"c":81,"r":7,"v":68},{"c":82,"r":7,"v":65},{"c":83,"r":7,"v":58},{"c":84,"r":7,"v":58},{"c":85,"r":7,"v":66},{"c":86,"r":7,"v":61},{"c":87,"r":7,"v":58},{"c":88,"r":7,"v":68},{"c":89,"r":7,"v":66},{"c":90,"r":7,"v":66},{"c":91,"r":7,"v":68},{"c":92,"r":7,"v":68},{"c":93,"r":7,"v":66},{"c":94,"r":7,"v":59},{"c":95,"r":7,"v":52},{"c":96,"r":7,"v":61},{"c":97,"r":7,"v":66},{"c":98,"r":7,"v":58},{"c":99,"r":7,"v":58},{"c":100,"r":7,"v":57},{"c":101,"r":7,"v":69},{"c":102,"r":7,"v":73},{"c":103,"r":7,"v":76},{"c":104,"r":7,"v":76},{"c":105,"r":7,"v":64},{"c":106,"r":7,"v":62},{"c":107,"r":7,"v":71},{"c":108,"r":7,"v":71},{"c":109,"r":7,"v":67},{"c":110,"r":7,"v":67},{"c":111,"r":7,"v":62},{"c":112,"r":7,"v":66},{"c":113,"r":7,"v":84},{"c":114,"r":7,"v":84},{"c":115,"r":7,"v":87},{"c":116,"r":7,"v":87},{"c":117,"r":7,"v":87},{"c":118,"r":7,"v":90},{"c":119,"r":7,"v":90},
{"c":120,"r":7,"v":88},{"c":121,"r":7,"v":93},{"c":122,"r":7,"v":87},{"c":123,"r":7,"v":87},{"c":124,"r":7,"v":87},{"c":125,"r":7,"v":75},{"c":126,"r":7,"v":69},{"c":127,"r":7,"v":85},{"c":128,"r":7,"v":76},{"c":129,"r":7,"v":72},{"c":130,"r":7,"v":78},{"c":131,"r":7,"v":94},{"c":132,"r":7,"v":84},{"c":133,"r":7,"v":92},{"c":134,"r":7,"v":100},{"c":135,"r":7,"v":100},{"c":136,"r":7,"v":100},{"c":137,"r":7,"v":90},{"c":138,"r":7,"v":90},{"c":139,"r":7,"v":93},{"c":140,"r":7,"v":100},{"c":141,"r":7,"v":100},{"c":142,"r":7,"v":96},{"c":143,"r":7,"v":96},{"c":144,"r":7,"v":90},{"c":145,"r":7,"v":90},{"c":146,"r":7,"v":87},{"c":147,"r":7,"v":90},{"c":148,"r":7,"v":81},{"c":149,"r":7,"v":95},{"c":150,"r":7,"v":72},{"c":151,"r":7,"v":72},{"c":152,"r":7,"v":82},{"c":153,"r":7,"v":78},{"c":154,"r":7,"v":67},{"c":155,"r":7,"v":48},{"c":156,"r":7,"v":81},{"c":157,"r":7,"v":55},{"c":158,"r":7,"v":55},{"c":159,"r":7,"v":61}
]},"resolve":{"axis":{"x":"independent","y":"independent"}},"layer":[{"mark":{"type":"rect","strokeWidth":0.6},"encoding":{"x":{"field":"c","type":"ordinal","scale":{"paddingInner":0,"paddingOuter":0},"axis":{"orient":"bottom","values":[0,20,40,60,80,100,120,140],"labelPadding":27,"zindex":1}},"y":{"field":"r","type":"ordinal","scale":{"paddingInner":0,"paddingOuter":0},"axis":{"orient":"left","labelPadding":28,"zindex":1}},"color":{"field":"v","type":"quantitative","scale":{"domain":[0,100],"range":["#ffff66","#008066"],"interpolate":"rgb"},"legend":null},"stroke":{"field":"v","type":"quantitative","scale":{"domain":[0,100],"range":["#ffff66","#008066"],"interpolate":"rgb"},"legend":null}}},{"transform":[{"filter":"datum.c==0&&datum.r==0"}],"mark":{"type":"rect","opacity":0},"encoding":{"x":{"field":"c","type":"ordinal","axis":{"orient":"top","values":[0,20,40,60,80,100,120,140],"labels":false,"zindex":1}},"y":{"field":"r","type":"ordinal","axis":{"orient":"right","labels":false,"zindex":1}}}}]}
